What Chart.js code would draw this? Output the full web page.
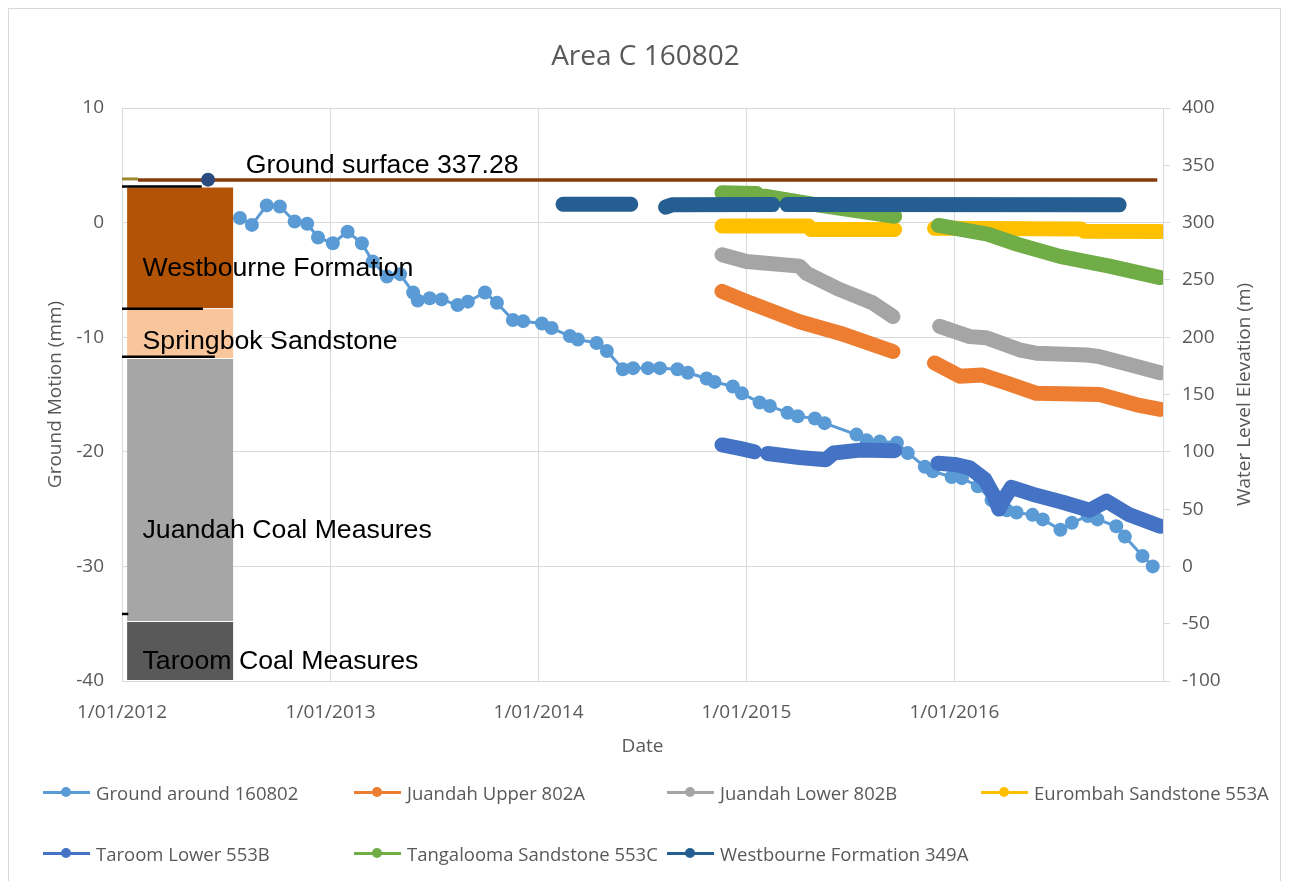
<!DOCTYPE html>
<html>
<head>
<meta charset="utf-8">
<script src="https://cdn.jsdelivr.net/npm/chart.js@4.4.1/dist/chart.umd.min.js"></script>
<style>
html,body{margin:0;padding:0;background:#fff;}
#wrap{position:relative;width:1291px;height:881px;overflow:hidden;background:#fff;}
#frame{position:absolute;left:8px;top:8px;width:1273px;height:900px;border:1px solid #D9D9D9;box-sizing:border-box;}
#c{position:absolute;left:0;top:0;}
.leg{position:absolute;height:30px;display:flex;align-items:center;font-family:'Open Sans',sans-serif;font-size:18.5px;color:#595959;white-space:nowrap;}
.leg .mk{position:relative;width:47px;height:30px;margin-right:6px;flex:none;}
.leg .ln{position:absolute;left:0;top:13.5px;width:47px;height:3px;}
.leg .dt{position:absolute;left:18px;top:10px;width:10px;height:10px;border-radius:50%;}
</style>
</head>
<body>
<div id="wrap">
<div id="frame"></div>
<canvas id="c" width="1291" height="881"></canvas>
<div id="legend"></div>
</div>
<script>
// ---------------- DATA ----------------
const chartTitle = 'Area C 160802';
const xTitle = 'Date';
const yLeftTitle = 'Ground Motion (mm)';
const yRightTitle = 'Water Level Elevation (m)';
const yearTicks = [2012, 2013, 2014, 2015, 2016, 2017];

const seriesNames = ['Ground around 160802','Juandah Upper 802A','Juandah Lower 802B','Eurombah Sandstone 553A','Taroom Lower 553B','Tangalooma Sandstone 553C','Westbourne Formation 349A'];
const seriesColors = ['#5B9BD5','#ED7D31','#A5A5A5','#FFC000','#4472C4','#70AD47','#255E91'];

// Ground motion (mm), left axis
const groundDates = ['2012-07-26','2012-08-16','2012-09-11','2012-10-04','2012-10-30','2012-11-21','2012-12-10','2013-01-05','2013-01-31','2013-02-25','2013-03-16','2013-04-10','2013-05-03','2013-05-26','2013-06-03','2013-06-24','2013-07-15','2013-08-12','2013-08-30','2013-09-29','2013-10-20','2013-11-17','2013-12-05','2014-01-07','2014-01-24','2014-02-25','2014-03-11','2014-04-13','2014-05-01','2014-05-29','2014-06-16','2014-07-12','2014-08-02','2014-09-02','2014-09-20','2014-10-23','2014-11-06','2014-12-08','2014-12-24','2015-01-24','2015-02-11','2015-03-14','2015-04-01','2015-05-01','2015-05-18','2015-07-13','2015-07-31','2015-08-23','2015-09-22','2015-10-11','2015-11-10','2015-11-24','2015-12-27','2016-01-14','2016-02-11','2016-03-06','2016-04-02','2016-04-19','2016-05-17','2016-06-04','2016-07-05','2016-07-25','2016-08-22','2016-09-08','2016-10-11','2016-10-26','2016-11-26','2016-12-14'];
const groundMotion = [0.4,-0.2,1.5,1.4,0.1,-0.1,-1.3,-1.8,-0.8,-1.8,-3.4,-4.7,-4.5,-6.1,-6.8,-6.6,-6.7,-7.2,-6.9,-6.1,-7.0,-8.5,-8.6,-8.8,-9.2,-9.9,-10.2,-10.5,-11.2,-12.8,-12.7,-12.7,-12.7,-12.8,-13.1,-13.6,-13.9,-14.3,-14.9,-15.7,-16.0,-16.6,-16.9,-17.1,-17.5,-18.5,-19.0,-19.1,-19.2,-20.1,-21.3,-21.7,-22.2,-22.3,-23.0,-24.2,-25.1,-25.3,-25.5,-25.9,-26.8,-26.2,-25.6,-25.9,-26.5,-27.4,-29.1,-30.0];

// Water levels (m), right axis; null = gap
const juandahUpperDates = ['2014-11-19','2015-01-07','2015-04-04','2015-06-14','2015-09-15',null,'2015-11-27','2016-01-10','2016-02-19','2016-04-02','2016-05-24','2016-09-12','2016-11-16','2016-12-27'];
const juandahUpperLevel = [240,230,213.5,203.5,187.5,null,177.5,166,167,160,151,150,141,137];

const juandahLowerDates = ['2014-11-19','2015-01-01','2015-04-04','2015-04-17','2015-06-14','2015-08-10','2015-09-15',null,'2015-12-06','2016-01-28','2016-02-26','2016-04-24','2016-05-24','2016-08-20','2016-09-12','2016-11-16','2016-12-27'];
const juandahLowerLevel = [272,266,262,255.5,241.5,230,218,null,209.5,200.5,199.5,189,186,184.5,183,174.5,169];

const eurombahDates = ['2014-11-19','2015-04-20','2015-04-24','2015-09-18',null,'2015-11-27','2016-08-10','2016-08-16','2016-12-27'];
const eurombahLevel = [297,297,294,294,null,295,294.5,292.5,292.3];

const taroomDates = ['2014-11-19','2014-12-20','2015-01-15',null,'2015-02-07','2015-04-04','2015-05-20','2015-06-03','2015-07-19','2015-09-18',null,'2015-12-03','2016-01-01','2016-01-28','2016-02-23','2016-03-10','2016-03-19','2016-03-27','2016-04-10','2016-05-17','2016-07-09','2016-08-25','2016-09-24','2016-11-03','2016-12-27'];
const taroomLevel = [106,103,100,null,98.5,95,93,99,101.5,101,null,90,89,86,76,62,50,58,69,63,56,49,57,45,35];

const tangaloomaDates = ['2014-11-19','2015-01-19',null,'2015-02-02','2015-05-05','2015-09-18',null,'2015-12-04','2016-02-28','2016-04-21','2016-07-04','2016-09-29','2016-12-27'];
const tangaloomaLevel = [326,325.5,null,323,315.5,305.5,null,297.5,290,281,270.5,262,252];

const westbourneDates = ['2014-02-13','2014-06-12',null,'2014-08-12','2014-08-23','2015-02-16',null,'2015-03-13','2016-10-16'];
const westbourneLevel = [316,316,null,313.5,315.5,315.7,null,315.7,315.5];

// Ground surface reference
const groundSurfaceLabel = 'Ground surface 337.28';
const groundSurfaceElev = 337.28;
const groundSurfaceDates = ['2012-01-29','2016-12-22'];
const groundSurfaceStubDates = ['2012-01-01','2012-01-29'];
const groundSurfaceStubElev = 338.1;
const surfaceMarkerDate = '2012-05-31';
const surfaceMarkerElev = 337.5;

// Stratigraphic column (elevations, m)
const strataNames = ['Westbourne Formation','Springbok Sandstone','Juandah Coal Measures','Taroom Coal Measures'];
const strataTop = [330.6, 224.5, 181, -48.5];
const strataBottom = [224.5, 181, -48.5, -100];
const strataColors = ['#B25306','#F9C59A','#A6A6A6','#595959'];
const strataLabelElev = [253.7, 190, 24.9, -89.5];
const strataFrom = '2012-01-10';
const strataTo = '2012-07-14';
const strataLabelDate = '2012-02-06';
const boundaryElev = [331.4, 224.9, 183, -41.5];
const boundaryTo = ['2012-05-20','2012-05-22','2012-06-12','2012-01-12'];
const groundSurfaceLabelDate = '2012-08-05';
const groundSurfaceLabelElev = 343.7;

// ---------------- BUILD ----------------
const T = d => Date.parse(d + 'T00:00:00Z');
function pts(dates, vals){
  return dates.map((d,i) => d === null ? {x: T(dates[i-1]) + 86400000, y: null} : {x: T(d), y: vals[i]});
}
const FONT = "'Open Sans', sans-serif";
const GRAY = '#595959';

const thick = (i, data) => ({
  label: seriesNames[i], data, yAxisID: 'yR', borderColor: seriesColors[i], backgroundColor: seriesColors[i],
  borderWidth: 15, borderCapStyle: 'round', borderJoinStyle: 'round', pointRadius: 0, spanGaps: false, order: 7 - i, tension: 0
});

const datasets = [
  {label: seriesNames[0], data: pts(groundDates, groundMotion), yAxisID: 'yL', borderColor: seriesColors[0], backgroundColor: seriesColors[0],
   borderWidth: 3, pointRadius: 7, pointBorderWidth: 0, order: 7, tension: 0},
  thick(1, pts(juandahUpperDates, juandahUpperLevel)),
  thick(2, pts(juandahLowerDates, juandahLowerLevel)),
  thick(3, pts(eurombahDates, eurombahLevel)),
  thick(4, pts(taroomDates, taroomLevel)),
  thick(5, pts(tangaloomaDates, tangaloomaLevel)),
  thick(6, pts(westbourneDates, westbourneLevel)),
  {label: 'Ground surface', data: groundSurfaceDates.map(d => ({x: T(d), y: groundSurfaceElev})), yAxisID: 'yR',
   borderColor: '#843C0C', borderWidth: 3.5, pointRadius: 0, order: 0.5},
  {label: 'Ground surface stub', data: groundSurfaceStubDates.map(d => ({x: T(d), y: groundSurfaceStubElev})), yAxisID: 'yR',
   borderColor: '#9C8A2E', borderWidth: 3, pointRadius: 0, order: 0.4},
  {label: 'Surface marker', data: [{x: T(surfaceMarkerDate), y: surfaceMarkerElev}], yAxisID: 'yR', showLine: false,
   backgroundColor: '#2B4A7E', borderColor: '#2B4A7E', pointRadius: 7, pointBorderWidth: 0, order: 0.3}
];

const strataPlugin = {
  id: 'strata',
  afterDatasetsDraw(chart){
    const {ctx, scales:{x, yR}} = chart;
    ctx.save();
    const x0 = x.getPixelForValue(T(strataFrom)), x1 = x.getPixelForValue(T(strataTo));
    strataNames.forEach((n,i) => {
      const yt = yR.getPixelForValue(strataTop[i]), yb = yR.getPixelForValue(strataBottom[i]);
      ctx.fillStyle = strataColors[i];
      ctx.fillRect(x0, yt, x1 - x0, yb - yt - 1);
    });
    ctx.strokeStyle = '#000'; ctx.lineWidth = 2.5;
    boundaryElev.forEach((e,i) => {
      const y = yR.getPixelForValue(e);
      ctx.beginPath(); ctx.moveTo(x.left, y); ctx.lineTo(x.getPixelForValue(T(boundaryTo[i])), y); ctx.stroke();
    });
    ctx.fillStyle = '#000';
    ctx.font = "26.7px 'Liberation Sans', Arial, sans-serif";
    ctx.textBaseline = 'alphabetic'; ctx.textAlign = 'left';
    const lx = x.getPixelForValue(T(strataLabelDate));
    strataNames.forEach((n,i) => ctx.fillText(n, lx, yR.getPixelForValue(strataLabelElev[i])));
    ctx.fillText(groundSurfaceLabel, x.getPixelForValue(T(groundSurfaceLabelDate)), yR.getPixelForValue(groundSurfaceLabelElev));
    ctx.restore();
  },
  afterDraw(chart){
    const {ctx, chartArea} = chart;
    ctx.save();
    ctx.translate(1245, (chartArea.top + chartArea.bottom) / 2);
    ctx.rotate(-Math.PI / 2);
    ctx.fillStyle = GRAY; ctx.font = "19px " + FONT; ctx.textAlign = 'center'; ctx.textBaseline = 'middle';
    ctx.fillText(yRightTitle, 0, 0);
    ctx.restore();
  }
};

const tickFont = {family: FONT, size: 19};
new Chart(document.getElementById('c'), {
  type: 'line',
  data: {datasets},
  plugins: [strataPlugin],
  options: {
    responsive: false, animation: false, events: [],
    layout: {padding: {left: 0, right: 0, top: 0, bottom: 120}},
    plugins: {
      legend: {display: false}, tooltip: {enabled: false},
      title: {display: true, text: chartTitle, color: GRAY, font: {family: FONT, size: 28, weight: 'normal'}, padding: {top: 40, bottom: 34.4}}
    },
    scales: {
      x: {
        type: 'linear', min: T('2012-01-01'), max: T('2017-01-01'),
        afterBuildTicks: s => { s.ticks = yearTicks.map(y => ({value: T(y + '-01-01')})); },
        ticks: {autoSkip: false, maxRotation: 0, padding: 20, color: GRAY, font: tickFont,
          callback: v => { const y = new Date(v).getUTCFullYear(); return y === 2017 ? '' : '1/01/' + y; }},
        grid: {color: '#D9D9D9', drawTicks: false}, border: {color: '#D9D9D9'},
        title: {display: true, text: xTitle, color: GRAY, font: tickFont, padding: {top: 0, bottom: 3}},
        afterFit: s => { s.height = 80; }
      },
      yL: {
        position: 'left', min: -40, max: 10,
        ticks: {stepSize: 10, padding: 18, color: GRAY, font: tickFont},
        grid: {color: '#D9D9D9', drawTicks: false}, border: {color: '#D9D9D9'},
        title: {display: true, text: yLeftTitle, color: GRAY, font: tickFont, padding: {top: 44, bottom: 0}},
        afterFit: s => { s.width = 122; }
      },
      yR: {
        position: 'right', min: -100, max: 400,
        ticks: {stepSize: 50, padding: 12, color: GRAY, font: tickFont},
        grid: {drawOnChartArea: false, color: '#D9D9D9', tickLength: 7}, border: {color: '#D9D9D9'},
        afterFit: s => { s.width = 128; }
      }
    }
  }
});

// HTML legend
const legendCols = [43, 354, 667, 981];
const legendRows = [792, 853];
const legendEl = document.getElementById('legend');
seriesNames.forEach((name, i) => {
  const col = i < 4 ? i : i - 4, row = i < 4 ? 0 : 1;
  const d = document.createElement('div');
  d.className = 'leg';
  d.style.left = legendCols[col] + 'px';
  d.style.top = (legendRows[row] - 15) + 'px';
  d.innerHTML = '<span class="mk"><span class="ln" style="background:' + seriesColors[i] + '"></span><span class="dt" style="background:' + seriesColors[i] + '"></span></span><span>' + name + '</span>';
  legendEl.appendChild(d);
});
</script>
</body>
</html>
